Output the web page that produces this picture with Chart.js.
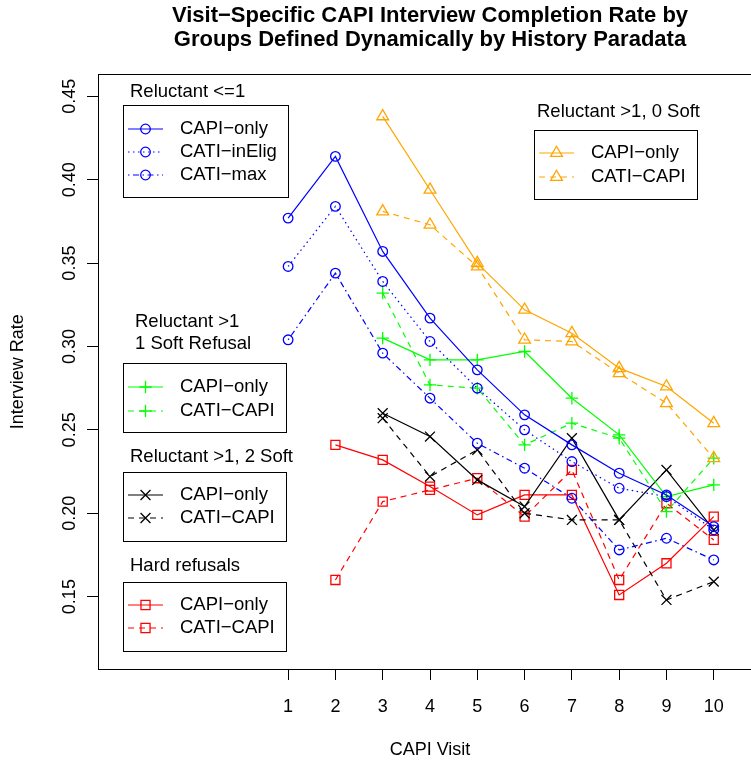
<!DOCTYPE html>
<html>
<head>
<meta charset="utf-8">
<script src="https://cdn.jsdelivr.net/npm/chart.js@4.4.1/dist/chart.umd.min.js"></script>
<style>
  html, body { margin: 0; padding: 0; background: #fff; overflow: hidden; }
  #wrap { width: 775px; height: 763px; }
</style>
</head>
<body>
<div id="wrap"><canvas id="grafico" width="775" height="763"></canvas></div>
<script>
// dados
const visitas = [1, 2, 3, 4, 5, 6, 7, 8, 9, 10];
const yTicks = [0.15, 0.20, 0.25, 0.30, 0.35, 0.40, 0.45];

// Reluctant <=1 (visitas 1..10)
const rel1CapiOnly   = [0.377, 0.414, 0.357, 0.317, 0.286, 0.259, 0.241, 0.224, 0.211, 0.192];
const rel1CatiInElig = [0.348, 0.384, 0.339, 0.303, 0.275, 0.250, 0.231, 0.215, 0.210, 0.190];
const rel1CatiMax    = [0.304, 0.344, 0.296, 0.269, 0.242, 0.227, 0.209, 0.178, 0.185, 0.172];

// Reluctant >1, 0 Soft (visitas 3..10)
const soft0CapiOnly = [0.438, 0.394, 0.350, 0.322, 0.308, 0.287, 0.276, 0.254];
const soft0CatiCapi = [0.381, 0.373, 0.348, 0.304, 0.303, 0.284, 0.266, 0.233];

// Reluctant >1, 1 Soft Refusal (visitas 3..10)
const soft1CapiOnly = [0.305, 0.292, 0.292, 0.297, 0.269, 0.247, 0.210, 0.217];
const soft1CatiCapi = [0.332, 0.277, 0.275, 0.241, 0.254, 0.245, 0.201, 0.233];

// Reluctant >1, 2 Soft (visitas 3..10)
const soft2CapiOnly = [0.260, 0.246, 0.220, 0.204, 0.245, 0.196, 0.226, 0.190];
const soft2CatiCapi = [0.257, 0.222, 0.238, 0.200, 0.196, 0.196, 0.148, 0.159];

// Hard refusals (visitas 2..10)
const hardCapiOnly = [0.241, 0.232, 0.216, 0.199, 0.211, 0.211, 0.151, 0.170, 0.198];
const hardCatiCapi = [0.160, 0.207, 0.214, 0.221, 0.198, 0.226, 0.160, 0.206, 0.184];

const fonte = "'Liberation Sans', Arial, Helvetica, sans-serif";
Chart.defaults.font.family = fonte;
Chart.defaults.color = '#000';

// transforma lista de valores em pontos {x, y} a partir da primeira visita
function pontos(inicio, valores) {
  return valores.map((v, i) => ({ x: visitas[inicio - 1 + i], y: v }));
}

const tracejado = [6, 5];
const pontilhado = [1.5, 3.5];
const tracoPonto = [1.5, 3.5, 6, 3.5];

function serie(label, data, cor, estilo, raio, dash) {
  return {
    label: label,
    data: data,
    borderColor: cor,
    borderWidth: 1.2,
    borderDash: dash,
    pointStyle: estilo,
    pointRadius: raio,
    pointBorderColor: cor,
    pointBackgroundColor: 'rgba(0,0,0,0)',
    pointBorderWidth: 1.3,
    pointHoverRadius: raio,
    tension: 0,
    fill: false
  };
}

const datasets = [
  serie('CAPI−only', pontos(1, rel1CapiOnly), '#0000FF', 'circle', 4.8, []),
  serie('CATI−inElig', pontos(1, rel1CatiInElig), '#0000FF', 'circle', 4.8, pontilhado),
  serie('CATI−max', pontos(1, rel1CatiMax), '#0000FF', 'circle', 4.8, tracoPonto),
  serie('CAPI−only', pontos(3, soft0CapiOnly), '#FFA500', 'triangle', 6.8, []),
  serie('CATI−CAPI', pontos(3, soft0CatiCapi), '#FFA500', 'triangle', 6.8, tracejado),
  serie('CAPI−only', pontos(3, soft1CapiOnly), '#00FF00', 'cross', 6.2, []),
  serie('CATI−CAPI', pontos(3, soft1CatiCapi), '#00FF00', 'cross', 6.2, tracejado),
  serie('CAPI−only', pontos(3, soft2CapiOnly), '#000000', 'crossRot', 7, []),
  serie('CATI−CAPI', pontos(3, soft2CatiCapi), '#000000', 'crossRot', 7, tracejado),
  serie('CAPI−only', pontos(2, hardCapiOnly), '#FF0000', 'rect', 6.4, []),
  serie('CATI−CAPI', pontos(2, hardCatiCapi), '#FF0000', 'rect', 6.4, tracejado)
];

// legendas no estilo do R: titulo, caixa e entradas (indices dos datasets)
const legendas = [
  { titulo: ['Reluctant <=1'], tituloX: 130, tituloY: [92], caixa: [123, 105, 288, 197], linhaX: 128, linhaY: [129, 152, 175], series: [0, 1, 2] },
  { titulo: ['Reluctant >1, 0 Soft'], tituloX: 537, tituloY: [112], caixa: [534, 130, 697, 199], linhaX: 539, linhaY: [153, 177], series: [3, 4] },
  { titulo: ['Reluctant >1', '1 Soft Refusal'], tituloX: 135, tituloY: [322, 344], caixa: [123, 363, 286, 432], linhaX: 128, linhaY: [387, 411], series: [5, 6] },
  { titulo: ['Reluctant >1, 2 Soft'], tituloX: 130, tituloY: [457], caixa: [123, 472, 286, 541], linhaX: 128, linhaY: [495, 518], series: [7, 8] },
  { titulo: ['Hard refusals'], tituloX: 130, tituloY: [566], caixa: [123, 582, 286, 651], linhaX: 128, linhaY: [605, 628], series: [9, 10] }
];

const legendaR = {
  id: 'legendaR',
  afterDatasetsDraw(chart) {
    const ctx = chart.ctx;
    ctx.save();
    ctx.font = '18.5px ' + fonte;
    ctx.textBaseline = 'middle';
    ctx.fillStyle = '#000';
    legendas.forEach(lg => {
      lg.titulo.forEach((t, i) => {
        ctx.textAlign = 'left';
        ctx.fillText(t, lg.tituloX, lg.tituloY[i]);
      });
      const [x1, y1, x2, y2] = lg.caixa;
      ctx.strokeStyle = '#000';
      ctx.lineWidth = 1;
      ctx.setLineDash([]);
      ctx.strokeRect(x1 + 0.5, y1 + 0.5, x2 - x1, y2 - y1);
      lg.series.forEach((idx, i) => {
        const ds = datasets[idx];
        const y = lg.linhaY[i];
        ctx.strokeStyle = ds.borderColor;
        ctx.lineWidth = ds.borderWidth;
        ctx.setLineDash(ds.borderDash);
        ctx.beginPath();
        ctx.moveTo(lg.linhaX, y);
        ctx.lineTo(lg.linhaX + 35, y);
        ctx.stroke();
        ctx.setLineDash([]);
        ctx.lineWidth = ds.pointBorderWidth;
        ctx.fillStyle = 'rgba(0,0,0,0)';
        Chart.helpers.drawPoint(ctx, { pointStyle: ds.pointStyle, radius: ds.pointRadius, rotation: 0, borderWidth: ds.pointBorderWidth }, lg.linhaX + 17.5, y);
        ctx.fillStyle = '#000';
        ctx.textAlign = 'left';
        ctx.fillText(ds.label, lg.linhaX + 52, y);
      });
    });
    ctx.restore();
  }
};

// caixa em volta da area do grafico
const moldura = {
  id: 'moldura',
  afterDraw(chart) {
    const a = chart.chartArea;
    const ctx = chart.ctx;
    ctx.save();
    ctx.strokeStyle = '#000';
    ctx.lineWidth = 1;
    ctx.strokeRect(Math.round(a.left) + 0.5, Math.round(a.top) + 0.5, Math.round(a.right - a.left), Math.round(a.bottom - a.top));
    ctx.restore();
  }
};

const ctx = document.getElementById('grafico').getContext('2d');
const grafico = new Chart(ctx, {
  type: 'line',
  data: { datasets: datasets },
  plugins: [legendaR, moldura],
  options: {
    responsive: false,
    animation: false,
    layout: { padding: { left: 0, right: 13, top: 0, bottom: 0 } },
    plugins: {
      legend: { display: false },
      tooltip: { enabled: false },
      title: {
        display: true,
        fullSize: false,
        text: ['Visit−Specific CAPI Interview Completion Rate by', 'Groups Defined Dynamically by History Paradata'],
        font: { size: 22, weight: 'bold', lineHeight: 1.11 },
        color: '#000',
        padding: { top: 3.5, bottom: 22 }
      }
    },
    scales: {
      x: {
        type: 'linear',
        min: -3.02,
        max: 11.02,
        afterBuildTicks: s => { s.ticks = visitas.map(v => ({ value: v })); },
        afterFit: s => { s.height = 94; },
        grid: { drawOnChartArea: false, drawTicks: true, tickLength: 11, color: '#000', lineWidth: 1 },
        border: { display: true, color: '#000', width: 1 },
        ticks: { font: { size: 18 }, color: '#000', padding: 16, maxRotation: 0, autoSkip: false, callback: v => String(v) },
        title: { display: true, text: 'CAPI Visit', font: { size: 18 }, color: '#000', padding: { top: 0, bottom: 2 } }
      },
      y: {
        type: 'linear',
        min: 0.1066,
        max: 0.4632,
        afterBuildTicks: s => { s.ticks = yTicks.map(v => ({ value: v })); },
        afterFit: s => { s.width = 98; },
        grid: { drawOnChartArea: false, drawTicks: true, tickLength: 11, color: '#000', lineWidth: 1 },
        border: { display: true, color: '#000', width: 1 },
        ticks: { font: { size: 18 }, color: '#000', padding: -1, minRotation: 90, maxRotation: 90, crossAlign: 'center', autoSkip: false, callback: v => v.toFixed(2) },
        title: { display: true, text: 'Interview Rate', font: { size: 18 }, color: '#000', padding: { top: 7, bottom: 0 } }
      }
    }
  }
});
</script>
</body>
</html>
